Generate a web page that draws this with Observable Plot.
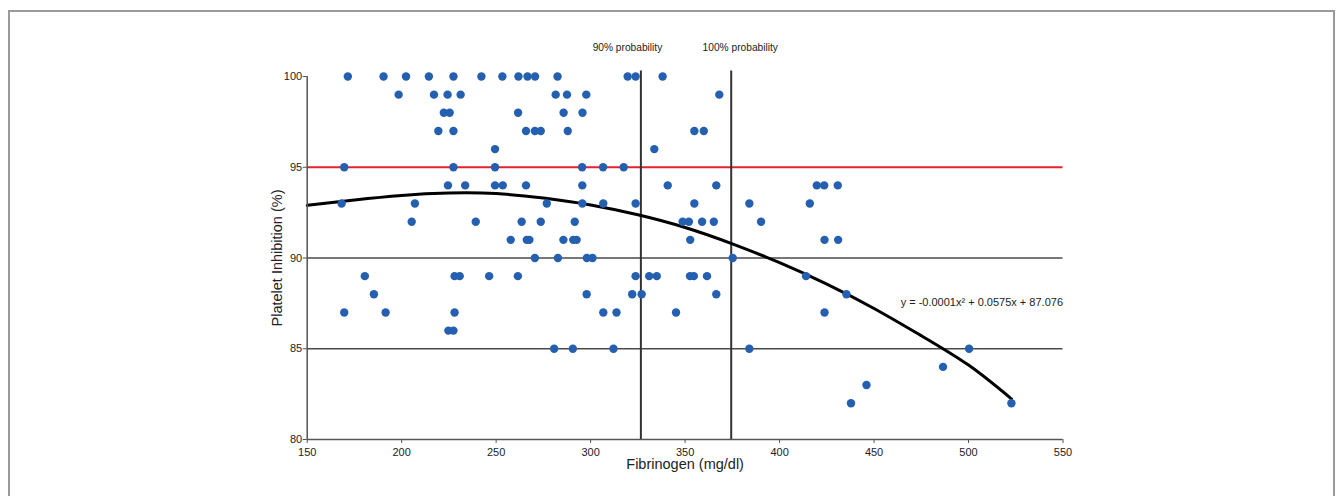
<!DOCTYPE html>
<html>
<head>
<meta charset="utf-8">
<script src="https://cdn.jsdelivr.net/npm/d3@7"></script>
<script src="https://cdn.jsdelivr.net/npm/@observablehq/plot@0.6"></script>
<style>
  html, body { margin: 0; padding: 0; background: #fff; }
  #wrap { position: relative; width: 1342px; height: 496px; overflow: hidden; }
  #border { position: absolute; left: 8px; top: 10px; width: 1327px; height: 500px; border: 2px solid #9a9a9a; box-sizing: border-box; pointer-events: none; }
</style>
</head>
<body>
<div id="wrap"><div id="border"></div></div>
<script>
// Scatter points: fibrinogen (mg/dl) and platelet inhibition (%)
const pointX = [
  171.5, 190.4, 202.3, 214.4, 227.4, 242.2, 253.3, 261.8, 266.6, 270.6, 282.5, 319.6, 323.8, 338.1,
  198.4, 217.1, 224.3, 231.2, 281.5, 287.5, 297.7, 368.1,
  222.3, 225.4, 261.6, 285.7, 295.7,
  219.4, 227.4, 265.8, 270.5, 273.6, 287.9, 354.9, 359.9,
  249.4, 333.7,
  169.6, 227.4, 249.4, 295.5, 306.6, 317.5,
  224.5, 233.6, 249.4, 253.5, 265.8, 295.6, 340.8, 366.5, 419.7, 423.6, 430.8,
  168.2, 207.0, 276.8, 295.6, 306.7, 323.8, 354.9, 384.0, 416.0,
  205.3, 239.2, 263.5, 273.6, 291.6, 348.7, 352.0, 359.0, 365.2, 390.2,
  257.7, 266.2, 267.6, 285.6, 290.8, 292.6, 352.7, 423.8, 431.0,
  270.5, 282.7, 298.0, 301.0, 375.2,
  180.5, 228.0, 230.7, 246.3, 261.5, 323.8, 331.0, 335.0, 352.6, 354.6, 361.6, 414.0,
  185.3, 297.9, 322.0, 327.0, 366.5, 435.4,
  169.6, 191.5, 228.0, 306.7, 313.7, 345.2, 423.8,
  224.7, 227.4,
  280.7, 290.6, 312.1, 384.0, 500.3,
  486.5,
  446.0,
  437.8, 522.7
];
const pointY = [
  100, 100, 100, 100, 100, 100, 100, 100, 100, 100, 100, 100, 100, 100,
  99, 99, 99, 99, 99, 99, 99, 99,
  98, 98, 98, 98, 98,
  97, 97, 97, 97, 97, 97, 97, 97,
  96, 96,
  95, 95, 95, 95, 95, 95,
  94, 94, 94, 94, 94, 94, 94, 94, 94, 94, 94,
  93, 93, 93, 93, 93, 93, 93, 93, 93,
  92, 92, 92, 92, 92, 92, 92, 92, 92, 92,
  91, 91, 91, 91, 91, 91, 91, 91, 91,
  90, 90, 90, 90, 90,
  89, 89, 89, 89, 89, 89, 89, 89, 89, 89, 89, 89,
  88, 88, 88, 88, 88, 88,
  87, 87, 87, 87, 87, 87, 87,
  86, 86,
  85, 85, 85, 85, 85,
  84,
  83,
  82, 82
];

// Trend curve
const curveX = [150, 175, 200, 225, 250, 275, 300, 325, 350, 375, 400, 425, 450, 475, 500, 522.7];
const curveY = [92.9, 93.2, 93.45, 93.58, 93.55, 93.3, 92.92, 92.38, 91.68, 90.78, 89.74, 88.56, 87.22, 85.72, 84.1, 82.24];

// Reference lines
const thresholdY = [95];
const gridY = [85, 90];
const probabilityX = [326.6, 374.4];
const probabilityLabels = ["90% probability", "100% probability"];
const probabilityLabelX = [319.5, 379.2];

const xTicks = [150, 200, 250, 300, 350, 400, 450, 500, 550];
const yTicks = [80, 85, 90, 95, 100];
const equationText = "y = -0.0001x\u00b2 + 0.0575x + 87.076";

const points = pointX.map((x, i) => ({x, y: pointY[i]}));
const curve = curveX.map((x, i) => ({x, y: curveY[i]}));
const probs = probabilityX.map((x, i) => ({x, label: probabilityLabels[i], lx: probabilityLabelX[i]}));

const font = "'Liberation Sans', Arial, sans-serif";

const chart = Plot.plot({
  width: 1342,
  height: 496,
  marginLeft: 306.7,
  marginRight: 279.5,
  marginTop: 76,
  marginBottom: 57,
  x: {domain: [150, 550]},
  y: {domain: [80, 100]},
  style: {fontFamily: font, fontSize: "11px", color: "#222", background: "transparent", overflow: "visible"},
  marks: [
    Plot.ruleY(gridY, {stroke: "#4a4a4a", strokeWidth: 1.6}),
    Plot.ruleY(thresholdY, {stroke: "#e3222c", strokeWidth: 2.2}),
    Plot.ruleX(probs, {x: "x", y1: 80, y2: 100.3, stroke: "#333", strokeWidth: 2}),
    Plot.text(probs, {x: "lx", y: 101.6, text: "label", fontSize: 10.2, fill: "#222"}),
    Plot.line(curve, {x: "x", y: "y", curve: "natural", stroke: "#000", strokeWidth: 3}),
    Plot.dot(points, {x: "x", y: "y", r: 4.2, fill: "#2560b0", stroke: "none"}),
    Plot.text([equationText], {x: 550, y: 87.56, textAnchor: "end", fontSize: 11, fill: "#222"}),
    Plot.ruleX([150], {y1: 80, y2: 100, stroke: "#555", strokeWidth: 1.5}),
    Plot.ruleY([80], {x1: 150, x2: 550, stroke: "#555", strokeWidth: 1.5}),
    Plot.axisX({ticks: xTicks, tickSize: 4, tickPadding: 5, label: null, fontSize: 11, stroke: "#555", fill: "#222"}),
    Plot.axisY({ticks: yTicks, tickSize: 4, tickPadding: 1, label: null, fontSize: 11, stroke: "#555", fill: "#222"}),
    Plot.text(["Fibrinogen (mg/dl)"], {frameAnchor: "bottom", dy: 25, lineAnchor: "middle", textAnchor: "middle", fontSize: 14.5, fill: "#222"}),
    Plot.text(["Platelet Inhibition (%)"], {frameAnchor: "left", dx: -29.5, rotate: -90, textAnchor: "middle", lineAnchor: "middle", fontSize: 14.5, fill: "#222"})
  ]
});
document.getElementById("wrap").prepend(chart);
</script>
</body>
</html>
